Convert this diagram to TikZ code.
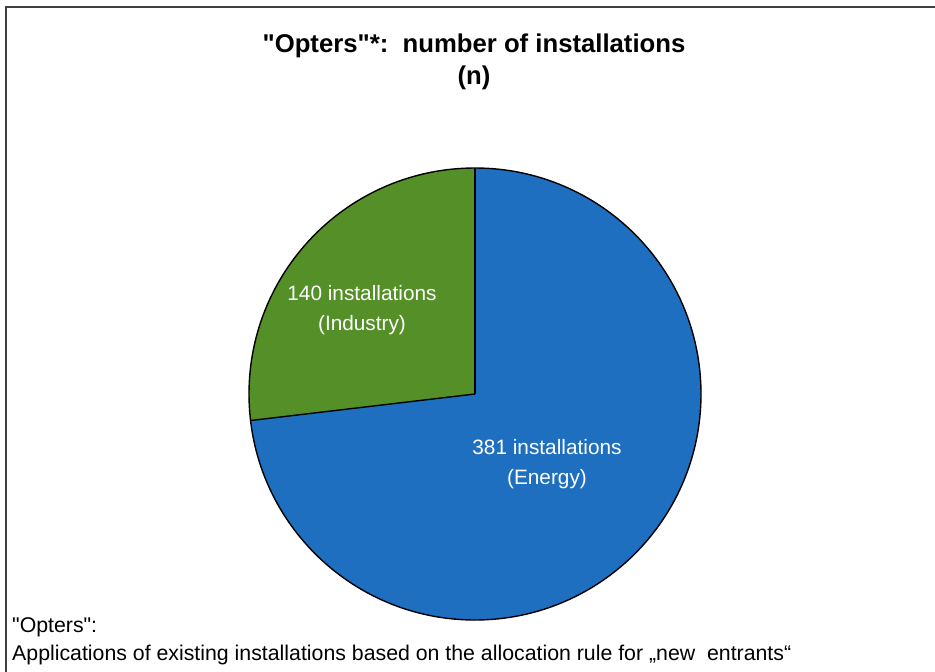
\documentclass[tikz,border=0pt]{standalone}
\usepackage{fontspec}
\setmainfont{Liberation Sans}
\usepackage{tikz}
\usepackage{xcolor}

\definecolor{energyblue}{RGB}{31,111,193}
\definecolor{industrygreen}{RGB}{84,143,39}

\tikzset{
  slice/.style={draw=black, line width=1.4pt},
  slicelabel/.style={text=white, align=center, font=\fontsize{20.8}{30}\selectfont},
  titletext/.style={font=\bfseries\fontsize{25.7}{30}\selectfont},
  notetext/.style={anchor=base west, inner sep=0pt, font=\fontsize{21.3}{24}\selectfont}
}

\begin{document}
\begin{tikzpicture}[x=1pt, y=1pt]
  \useasboundingbox (0,0) rectangle (935,-672);
  \fill[white] (0,0) rectangle (935,-672);
  % frame, cut off at the right and bottom
  \draw[line width=2pt, black!75] (6,-672) -- (6,-7) -- (935,-7);

  % title
  \node[titletext, anchor=base] (title) at (474,-52) {\textquotedbl Opters\textquotedbl*:\ \ number of installations};
  \node[titletext, anchor=base] (unit) at (474,-84) {(n)};

  % pie: 140 of 521 installations = 96.74 degrees
  \coordinate (centre) at (475,-394);
  \fill[industrygreen] (centre) -- ++(90:226) arc (90:186.74:226) -- cycle;
  \fill[energyblue] (centre) -- ++(186.74:226) arc (186.74:450:226) -- cycle;
  \draw[slice] (centre) circle (226);
  \draw[slice] (centre) -- ++(90:226);
  \draw[slice] (centre) -- ++(186.74:226);

  % slice labels
  \node[slicelabel] (industry) at (362,-310) {140 installations\\(Industry)};
  \node[slicelabel] (energy) at (547,-464) {381 installations\\(Energy)};

  % note at the bottom
  \node[notetext] (notehead) at (12,-632) {\textquotedbl Opters\textquotedbl:};
  \node[notetext] (notebody) at (12,-660) {Applications of existing installations based on the allocation rule for „new\ \ entrants“};
\end{tikzpicture}
\end{document}
